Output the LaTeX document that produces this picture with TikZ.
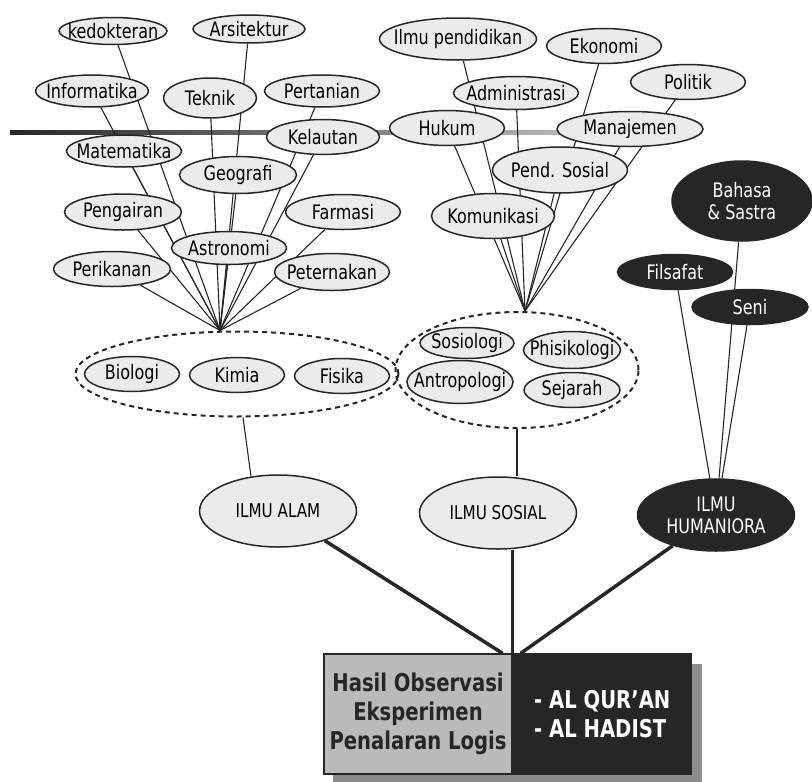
\documentclass[tikz,border=0pt]{standalone}
\usepackage{fontspec}
\setmainfont{DejaVu Sans}[FakeStretch=0.8]
\usetikzlibrary{shapes,backgrounds,positioning}

\tikzset{
  bidang/.style={ellipse, draw=black!85, line width=1.5pt, fill=black!8,
    inner xsep=-20pt, inner ysep=-8pt, minimum width=115pt, minimum height=34pt,
    font=\fontsize{20}{22}\selectfont},
  gelap/.style={bidang, fill=black!85, text=white!88, align=center},
  kelompok/.style={ellipse, draw=black!85, line width=2pt,
    dash pattern=on 5pt off 4pt, inner sep=0pt},
  ilmu/.style={bidang, minimum width=157pt, minimum height=72pt,
    font=\fontsize{19}{22}\selectfont, align=center},
  garis/.style={black!85, line width=1.1pt},
  garistebal/.style={black!85, line width=3.5pt},
  kotak/.style={rectangle, draw=black!85, line width=1.3pt, inner sep=0pt,
    minimum height=120pt, font=\fontsize{24.5}{29}\selectfont\bfseries}
}

\begin{document}
\begin{tikzpicture}[x=1pt, y=-1pt]

\useasboundingbox (0,0) rectangle (812,782);

%%% Ilmu alam

\node[bidang, minimum width=108pt, minimum height=27pt] (kedokteran) at (113,31) {kedokteran};
\node[bidang, minimum width=112pt, minimum height=28pt] (arsitektur) at (249,29) {Arsitektur};
\node[bidang, minimum width=113pt, minimum height=32pt] (informatika) at (92,91) {Informatika};
\node[bidang, minimum width=93pt, minimum height=40pt] (teknik) at (210,98) {Teknik};
\node[bidang, minimum height=32pt] (pertanian) at (322,91) {Pertanian};
\node[bidang, minimum width=113pt, minimum height=35pt] (kelautan) at (323,137) {Kelautan};
\node[bidang, minimum height=32pt] (matematika) at (124,151) {Matematika};
\node[bidang, minimum width=117pt, minimum height=37pt] (geografi) at (238,175) {Geografi};
\node[bidang, minimum width=117pt, minimum height=36pt] (pengairan) at (123,212) {Pengairan};
\node[bidang, minimum height=35pt] (farmasi) at (343,212) {Farmasi};
\node[bidang, minimum height=33pt] (astronomi) at (229,248) {Astronomi};
\node[bidang, minimum width=117pt, minimum height=35pt] (perikanan) at (112,269) {Perikanan};
\node[bidang, minimum height=37pt] (peternakan) at (332,272) {Peternakan};

\node[kelompok, minimum width=323pt, minimum height=85pt] (alamgrp) at (237,374) {};
\node[bidang, minimum width=95pt, minimum height=35pt] (biologi) at (132,374) {Biologi};
\node[bidang, minimum width=95pt, minimum height=35pt] (kimia) at (237,375) {Kimia};
\node[bidang, minimum width=95pt, minimum height=35pt] (fisika) at (342,376) {Fisika};
\coordinate (kipasalam) at ([xshift=-17pt]alamgrp.north);

%%% Ilmu sosial

\node[bidang, minimum width=157pt, minimum height=42pt] (pendidikan) at (458,39) {Ilmu pendidikan};
\node[bidang, minimum height=35pt] (ekonomi) at (604,46) {Ekonomi};
\node[bidang, minimum width=125pt, minimum height=33pt] (administrasi) at (516,93) {Administrasi};
\node[bidang, minimum height=35pt] (politik) at (688,82) {Politik};
\node[bidang, minimum height=35pt] (hukum) at (447,128) {Hukum};
\node[bidang, minimum width=146pt, minimum height=35pt] (manajemen) at (630,129) {Manajemen};
\node[bidang, minimum width=135pt, minimum height=46pt] (pendsosial) at (560,170) {Pend. Sosial};
\node[bidang, minimum width=123pt, minimum height=45pt] (komunikasi) at (493,216) {Komunikasi};

\node[kelompok, minimum width=243pt, minimum height=116pt] (sosialgrp) at (517,370) {};
\node[bidang, minimum width=94pt, minimum height=31pt] (sosiologi) at (467,343) {Sosiologi};
\node[bidang, minimum width=97pt, minimum height=37pt] (phisikologi) at (572,350) {Phisikologi};
\node[bidang, minimum width=106pt, minimum height=43pt] (antropologi) at (460,382) {Antropologi};
\node[bidang, minimum width=96pt, minimum height=35pt] (sejarah) at (572,390) {Sejarah};
\coordinate (kipassosial) at ([xshift=8pt]sosialgrp.north);

%%% Humaniora

\node[gelap, minimum width=140pt, minimum height=80pt] (bahasa) at (742,201) {Bahasa\\\& Sastra};
\node[gelap, minimum height=35pt] (filsafat) at (675,272) {Filsafat};
\node[gelap, minimum width=116pt, minimum height=35pt] (seni) at (750,307) {Seni};

%%% ILMU

\node[ilmu] (alam) at (278,511) {ILMU ALAM};
\node[ilmu] (sosial) at (498,513) {ILMU SOSIAL};
\node[ilmu, gelap, minimum width=157pt, minimum height=72pt] (hum) at (716,515) {ILMU\\HUMANIORA};

%%% Sumber

\node[kotak, fill=black!27, text=black!85, minimum width=188pt, align=center] (obs) at (418,714)
  {Hasil Observasi\\Eksperimen\\Penalaran Logis};
\node[kotak, fill=black!85, text=white!92, minimum width=178pt, align=left, right=0pt of obs] (wahyu)
  {- AL QUR’AN\\- AL HADIST};

\begin{scope}[on background layer]
\shade[left color=black!85, right color=black!25] (10,130) rectangle (600,134);
% bayangan
\fill[black!45] ([xshift=10pt, yshift=-11pt]obs.north west) rectangle ([xshift=10pt, yshift=-11pt]wahyu.south east);

% ke kipas alam
\draw[garis] (kedokteran) -- (kipasalam);
\draw[garis] (arsitektur) -- (kipasalam);
\draw[garis] (informatika) -- (kipasalam);
\draw[garis] (teknik) -- (kipasalam);
\draw[garis] (pertanian) -- (kipasalam);
\draw[garis] (kelautan) -- (kipasalam);
\draw[garis] (matematika) -- (kipasalam);
\draw[garis] (geografi) -- (kipasalam);
\draw[garis] (pengairan) -- (kipasalam);
\draw[garis] (farmasi) -- (kipasalam);
\draw[garis] (astronomi) -- (kipasalam);
\draw[garis] (perikanan) -- (kipasalam);
\draw[garis] (peternakan) -- (kipasalam);

% ke kipas sosial
\draw[garis] (pendidikan) -- (kipassosial);
\draw[garis] (ekonomi) -- (kipassosial);
\draw[garis] (administrasi) -- (kipassosial);
\draw[garis] (politik) -- (kipassosial);
\draw[garis] (hukum) -- (kipassosial);
\draw[garis] (manajemen) -- (kipassosial);
\draw[garis] (pendsosial) -- (kipassosial);
\draw[garis] (komunikasi) -- (kipassosial);

% humaniora
\draw[garis] (filsafat) -- (hum);
\draw[garis] (bahasa) -- (hum);
\draw[garis] (seni) -- (hum);

\draw[garis] ([xshift=6pt]alamgrp.south) -- (alam.128);
\draw[garis] (sosialgrp.south) -- (sosialgrp.south |- sosial.north);
\end{scope}

\draw[garistebal] (alam) -- ([xshift=-10pt]obs.north east);
\draw[garistebal] (sosial.south -| obs.north east) -- (obs.north east);
\draw[garistebal] (hum) -- ([xshift=8pt]obs.north east);

\end{tikzpicture}
\end{document}
